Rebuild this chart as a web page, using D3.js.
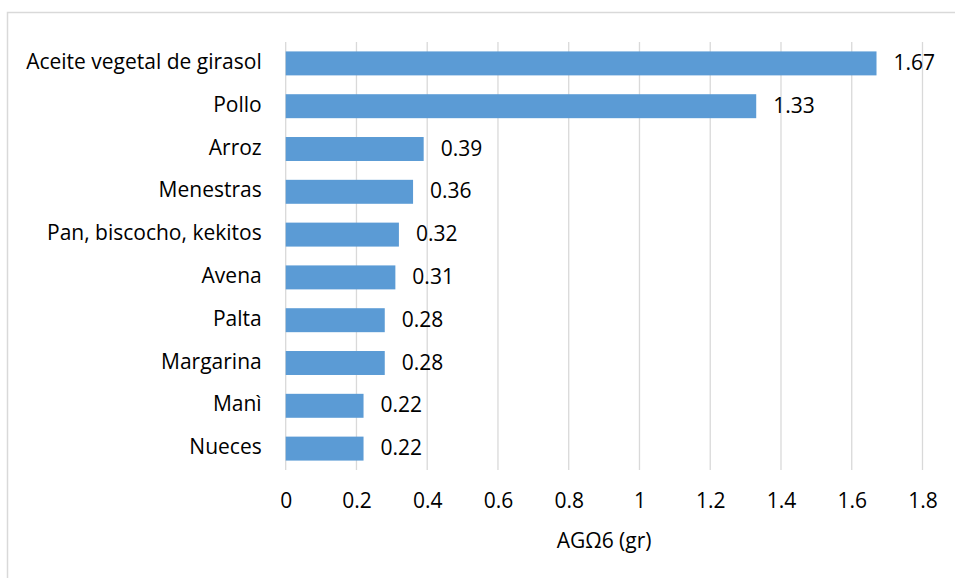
<!DOCTYPE html>
<html>
<head>
<meta charset="utf-8">
<script src="https://cdn.jsdelivr.net/npm/d3@7"></script>
<style>
    body { margin: 0; background: #fff; }
    svg { display: block; }
</style>
</head>
<body>
<div id="chart"></div>
<script>
const categories = ['Aceite vegetal de girasol', 'Pollo', 'Arroz', 'Menestras', 'Pan, biscocho, kekitos',
    'Avena', 'Palta', 'Margarina', 'Manì', 'Nueces'];
const values = [1.67, 1.33, 0.39, 0.36, 0.32, 0.31, 0.28, 0.28, 0.22, 0.22];
const xTicks = [0, 0.2, 0.4, 0.6, 0.8, 1, 1.2, 1.4, 1.6, 1.8];
const xTitle = 'AGΩ6 (gr)';

let
    width = 955,
    height = 578,
    margin = { top: 42, right: 32.5, bottom: 108, left: 285.7 },
    font = '"Open Sans", sans-serif',
    fontSize = 21,

    svg = d3
        .select('#chart')
        .append('svg')
        .attr('width', width)
        .attr('height', height);

// chart frame, cut off at right and bottom like the source
svg.append('rect')
    .attr('x', 7.5)
    .attr('y', 12.5)
    .attr('width', width)
    .attr('height', height)
    .style('fill', 'none')
    .style('stroke', '#d9d9d9')
    .style('stroke-width', 1.5);

let x = d3.scaleLinear()
    .domain([0, 1.8])
    .range([margin.left, width - margin.right]);

let y = d3.scaleBand()
    .domain(categories)
    .range([margin.top, height - margin.bottom])
    .paddingInner(0.44)
    .paddingOuter(0.22);

// gridlines
svg.append('g')
    .selectAll('line')
    .data(xTicks)
    .join('line')
    .attr('x1', d => x(d))
    .attr('x2', d => x(d))
    .attr('y1', margin.top)
    .attr('y2', height - margin.bottom)
    .style('stroke', '#d9d9d9')
    .style('stroke-width', 1.3);

// bars
svg.append('g')
    .selectAll('rect')
    .data(values)
    .join('rect')
    .attr('x', x(0))
    .attr('y', (d, i) => y(categories[i]))
    .attr('width', d => x(d) - x(0))
    .attr('height', y.bandwidth())
    .style('fill', '#5b9bd5');

// value labels
svg.append('g')
    .selectAll('text')
    .data(values)
    .join('text')
    .attr('x', d => x(d) + 17)
    .attr('y', (d, i) => y(categories[i]) + y.bandwidth() / 2 + 1)
    .attr('dominant-baseline', 'middle')
    .style('font-family', font)
    .style('font-size', fontSize + 'px')
    .style('fill', '#000')
    .text(d => d.toFixed(2));

// category labels
svg.append('g')
    .selectAll('text')
    .data(categories)
    .join('text')
    .attr('x', margin.left - 24)
    .attr('y', d => y(d) + y.bandwidth() / 2)
    .attr('text-anchor', 'end')
    .attr('dominant-baseline', 'middle')
    .style('font-family', font)
    .style('font-size', fontSize + 'px')
    .style('fill', '#000')
    .text(d => d);

// x axis tick labels
let xAxis = d3.axisBottom(x)
    .tickValues(xTicks)
    .tickSize(0)
    .tickPadding(0)
    .tickFormat(d3.format('~g'));

let gx = svg.append('g')
    .attr('transform', 'translate(0,' + (height - margin.bottom) + ')')
    .call(xAxis);

gx.select('.domain').remove();
gx.selectAll('text')
    .attr('y', 32)
    .attr('dy', null)
    .attr('dominant-baseline', 'middle')
    .style('font-family', font)
    .style('font-size', fontSize + 'px')
    .style('fill', '#000');

// axis title
svg.append('text')
    .attr('x', (x.range()[0] + x.range()[1]) / 2)
    .attr('y', 542)
    .attr('text-anchor', 'middle')
    .attr('dominant-baseline', 'middle')
    .style('font-family', font)
    .style('font-size', fontSize + 'px')
    .style('fill', '#000')
    .text(xTitle);
</script>
</body>
</html>
